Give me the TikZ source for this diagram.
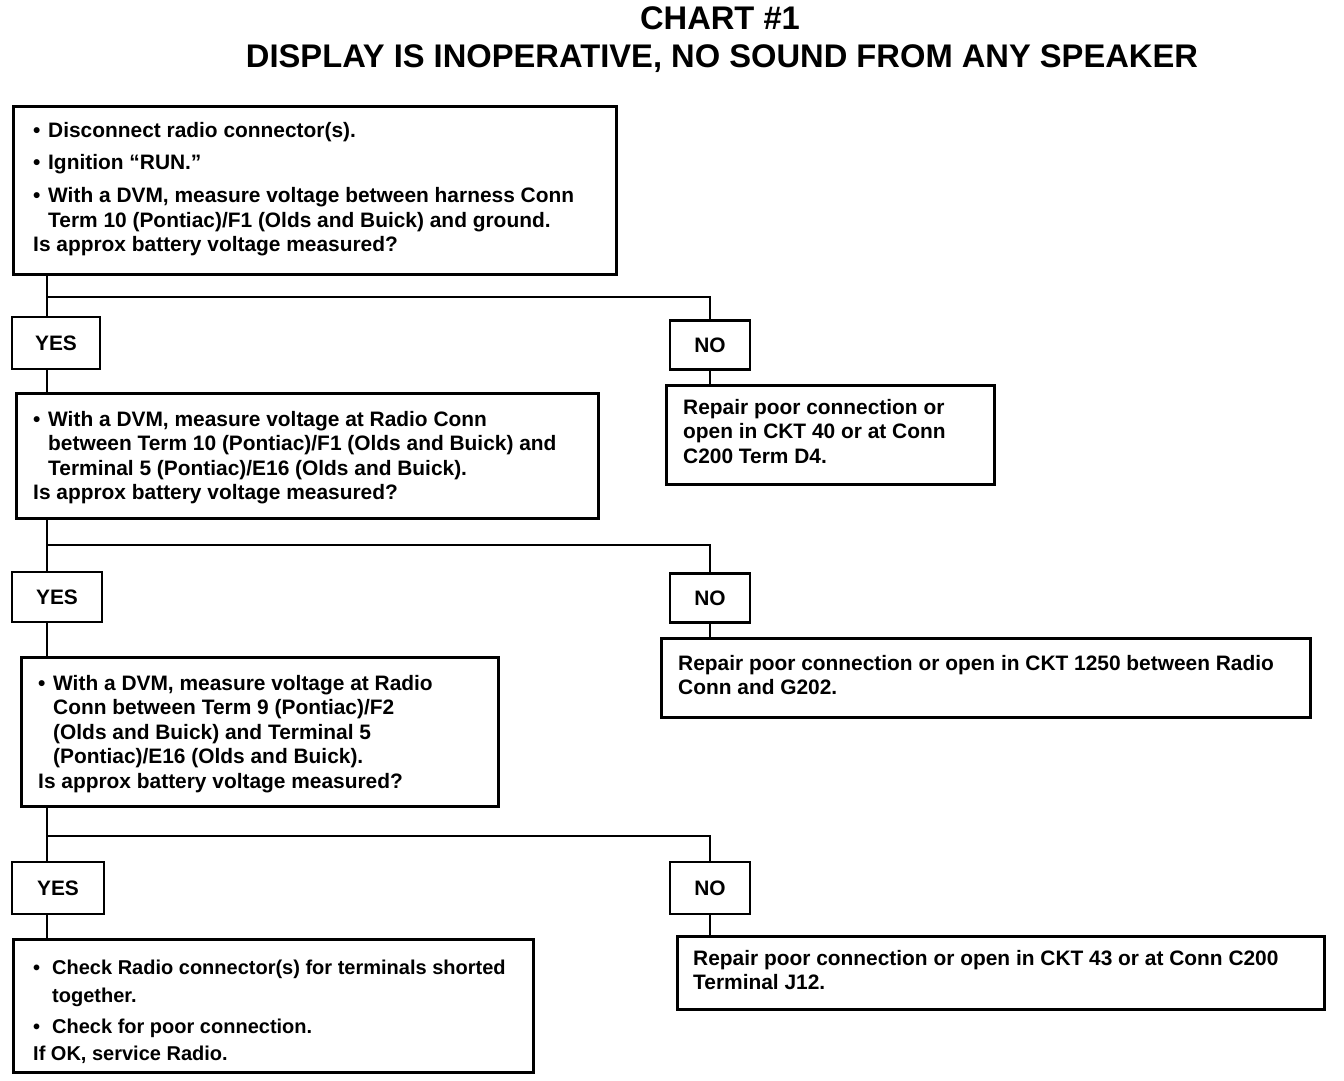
\documentclass[tikz,border=0pt]{standalone}
\usepackage{fontspec}
\setmainfont{Liberation Sans}
\newcommand\bodyfont{\fontsize{20.9}{24.5}\selectfont\bfseries}
\newcommand\smallbodyfont{\fontsize{20}{24.5}\selectfont\bfseries}
\newcommand\titlefont{\fontsize{32.7}{36}\selectfont\bfseries}
\begin{document}
\begin{tikzpicture}[x=1pt,y=-1pt,
  box/.style={draw, line width=2.8pt, inner sep=0, anchor=north west},
  ynbox/.style={draw, line width=2.8pt, inner sep=0, font=\bodyfont},
  txt/.style={anchor=base west, inner sep=0, font=\bodyfont},
  conn/.style={line width=2.8pt}]
\useasboundingbox[fill=white] (0,0) rectangle (1344,1080);

% title
\node[font=\titlefont, anchor=base, inner sep=0] (t1) at (720,29.6) {CHART \#1};
\node[font=\titlefont, anchor=base, inner sep=0] (t2) at (722,67.6) {DISPLAY IS INOPERATIVE, NO SOUND FROM ANY SPEAKER};

% boxes
\node[box, minimum width=603, minimum height=168] (b1) at (12,105) {};
\node[box, minimum width=582, minimum height=125] (b2) at (15,392) {};
\node[box, minimum width=477, minimum height=149] (b3) at (20,656) {};
\node[box, minimum width=520, minimum height=133] (b4) at (12,938) {};
\node[box, minimum width=328, minimum height=99] (r1) at (665,384) {};
\node[box, minimum width=649, minimum height=79] (r2) at (660,637) {};
\node[box, minimum width=647, minimum height=73] (r3) at (676,935) {};

% yes / no
\node[ynbox, minimum width=88, minimum height=52] (yes1) at (56,343) {YES};
\node[ynbox, minimum width=80, minimum height=49] (no1) at (710,345) {NO};
\node[ynbox, minimum width=90, minimum height=50] (yes2) at (57,597) {YES};
\node[ynbox, minimum width=80, minimum height=49] (no2) at (710,598) {NO};
\node[ynbox, minimum width=92, minimum height=52] (yes3) at (58,888) {YES};
\node[ynbox, minimum width=80, minimum height=52] (no3) at (710,888) {NO};

% texts
\node[txt] (x1) at (33,137) {\begin{tabular}[t]{@{}p{15pt}@{}l@{}}
\textbullet & Disconnect radio connector(s).\\[7.5pt]
\textbullet & Ignition “RUN.”\\[9pt]
\textbullet & With a DVM, measure voltage between harness Conn\\
 & Term 10 (Pontiac)/F1 (Olds and Buick) and ground.\\
\multicolumn{2}{@{}l@{}}{Is approx battery voltage measured?}
\end{tabular}};

\node[txt] (x2) at (33,426) {\begin{tabular}[t]{@{}p{15pt}@{}l@{}}
\textbullet & With a DVM, measure voltage at Radio Conn\\
 & between Term 10 (Pontiac)/F1 (Olds and Buick) and\\
 & Terminal 5 (Pontiac)/E16 (Olds and Buick).\\
\multicolumn{2}{@{}l@{}}{Is approx battery voltage measured?}
\end{tabular}};

\node[txt] (x3) at (38,690) {\begin{tabular}[t]{@{}p{15pt}@{}l@{}}
\textbullet & With a DVM, measure voltage at Radio\\
 & Conn between Term 9 (Pontiac)/F2\\
 & (Olds and Buick) and Terminal 5\\
 & (Pontiac)/E16 (Olds and Buick).\\
\multicolumn{2}{@{}l@{}}{Is approx battery voltage measured?}
\end{tabular}};

\node[txt, font=\smallbodyfont] (x4) at (33,974) {\begin{tabular}[t]{@{}p{19pt}@{}l@{}}
\textbullet & Check Radio connector(s) for terminals shorted\\[3.5pt]
 & together.\\[6.5pt]
\textbullet & Check for poor connection.\\[2.5pt]
\multicolumn{2}{@{}l@{}}{If OK, service Radio.}
\end{tabular}};

\node[txt] (x5) at (683,414) {\begin{tabular}[t]{@{}l@{}}
Repair poor connection or\\
open in CKT 40 or at Conn\\
C200 Term D4.
\end{tabular}};

\node[txt] (x6) at (678,670) {\begin{tabular}[t]{@{}l@{}}
Repair poor connection or open in CKT 1250 between Radio\\
Conn and G202.
\end{tabular}};

\node[txt] (x7) at (693,965) {\begin{tabular}[t]{@{}l@{}}
Repair poor connection or open in CKT 43 or at Conn C200\\
Terminal J12.
\end{tabular}};

% connectors
\coordinate (j1) at (47,297);
\coordinate (j2) at (47,545);
\coordinate (j3) at (47,836);
\draw[conn] (j1 |- b1.south) -- (j1) -| (no1.north);
\draw[conn] (j1) -- (j1 |- yes1.north);
\draw[conn] (j1 |- yes1.south) -- (j1 |- b2.north);
\draw[conn] (no1.south) -- (no1.south |- r1.north);

\draw[conn] (j2 |- b2.south) -- (j2) -| (no2.north);
\draw[conn] (j2) -- (j2 |- yes2.north);
\draw[conn] (j2 |- yes2.south) -- (j2 |- b3.north);
\draw[conn] (no2.south) -- (no2.south |- r2.north);

\draw[conn] (j3 |- b3.south) -- (j3) -| (no3.north);
\draw[conn] (j3) -- (j3 |- yes3.north);
\draw[conn] (j3 |- yes3.south) -- (j3 |- b4.north);
\draw[conn] (no3.south) -- (no3.south |- r3.north);
\end{tikzpicture}
\end{document}
